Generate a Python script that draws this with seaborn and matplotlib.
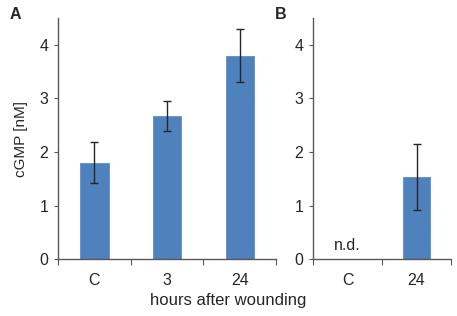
import numpy as np
import pandas as pd
import matplotlib
matplotlib.use("Agg")
import matplotlib.pyplot as plt
import seaborn as sns

sns.set_style("white")
plt.rcParams['font.family'] = ['Liberation Sans', 'DejaVu Sans']

cats_a = ["C", "3", "24"]
vals_a = [1.80, 2.67, 3.80]
err_a = [0.38, 0.28, 0.50]

cats_b = ["C", "24"]
vals_b = [np.nan, 1.53]
err_b = [np.nan, 0.61]

yticks = [0, 1, 2, 3, 4]
bar_color = "#4F81BD"
axis_color = "#595959"

fig = plt.figure(figsize=(4.57, 3.16), dpi=100)
ax_a = fig.add_axes([0.127, 0.180, 0.477, 0.763])
ax_b = fig.add_axes([0.685, 0.180, 0.302, 0.763])

def draw(ax, cats, vals, errs):
    df = pd.DataFrame({"cat": cats, "val": vals})
    sns.barplot(data=df, x="cat", y="val", order=cats, color=bar_color,
                width=0.39, saturation=1, edgecolor="#5B8FCB", linewidth=0.6,
                ax=ax, errorbar=None)
    x = np.arange(len(cats))
    ax.errorbar(x, vals, yerr=errs, fmt="none", ecolor="#262626",
                elinewidth=1.0, capsize=3, capthick=1.0)
    ax.set_xlim(-0.5, len(cats) - 0.5)
    ax.set_ylim(0, 4.5)
    ax.set_yticks(yticks)
    ax.set_xticks(x)
    ax.set_xticks(np.arange(len(cats) + 1) - 0.5, minor=True)
    ax.tick_params(axis="x", which="major", bottom=True, length=0, pad=10,
                   labelsize=11.5)
    ax.tick_params(axis="x", which="minor", bottom=True, length=4, width=0.8,
                   color=axis_color, direction="out")
    ax.tick_params(axis="y", left=True, length=3, width=0.8, color=axis_color,
                   direction="out", labelsize=11.5, pad=4)
    for s in ["top", "right"]:
        ax.spines[s].set_visible(False)
    for s in ["left", "bottom"]:
        ax.spines[s].set_color(axis_color)
        ax.spines[s].set_linewidth(1.0)
    ax.set_xlabel("")
    ax.set_ylabel("")

draw(ax_a, cats_a, vals_a, err_a)
draw(ax_b, cats_b, vals_b, err_b)

ax_a.set_ylabel("cGMP [nM]", fontsize=11, labelpad=8)
ax_b.text(0, 0.12, "n.d.", ha="center", va="bottom", fontsize=11.5)

fig.text(0.499, 0.05, "hours after wounding", ha="center", va="center", fontsize=12)
fig.text(0.02, 0.955, "A", ha="left", va="center", fontsize=11.5, fontweight="bold")
fig.text(0.602, 0.955, "B", ha="left", va="center", fontsize=11.5, fontweight="bold")

fig.savefig("out.png", dpi=100)
